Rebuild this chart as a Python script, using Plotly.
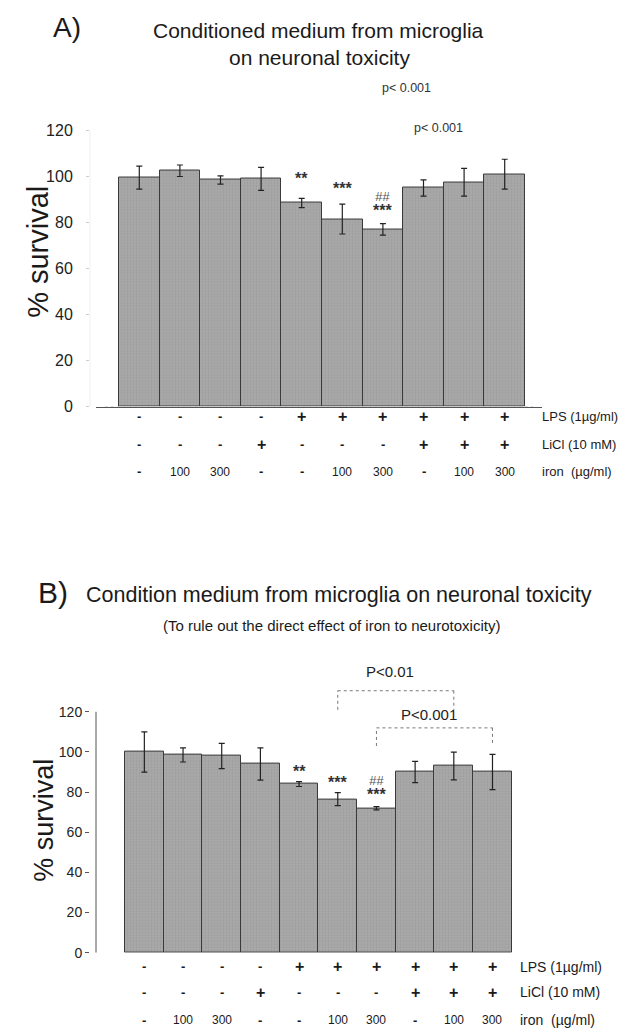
import plotly.graph_objects as go

W, H = 626, 1034

# ---------------- data ----------------
lps = ['-', '-', '-', '-', '+', '+', '+', '+', '+', '+']
licl = ['-', '-', '-', '+', '-', '-', '-', '+', '+', '+']
iron = ['-', '100', '300', '-', '-', '100', '300', '-', '100', '300']
row_labels = ['LPS (1µg/ml)', 'LiCl (10 mM)', 'iron  (µg/ml)']

surv_a = [99.5, 102.5, 98.5, 99, 88.5, 81.5, 77, 95, 97.5, 101]
err_a = [5, 2.5, 1.8, 5, 2, 6.5, 2.5, 3.5, 6, 6.5]
sig_a = ['', '', '', '', '**', '***', '***', '', '', '']
hash_a = ['', '', '', '', '', '', '##', '', '', '']

surv_b = [100, 98.5, 98, 94, 84, 76.5, 72, 90, 93, 90]
err_b = [10, 3.5, 6.3, 8, 1.2, 3.2, 0.8, 5.3, 6.9, 8.8]
sig_b = ['', '', '', '', '**', '***', '***', '', '', '']
hash_b = ['', '', '', '', '', '', '##', '', '', '']

y_ticks = [0, 20, 40, 60, 80, 100, 120]

idx = list(range(len(surv_a)))

FONT = "Liberation Sans, Arial, sans-serif"
BAR_FILL = '#a8a8a8'
YTOP = 150  # axis range top (room for p-value labels)


def px(x):
    return x / W


def py(y):
    return 1 - y / H


fig = go.Figure()

bar_style = dict(
    marker=dict(color=BAR_FILL, line=dict(color='#3a3a3a', width=1),
                pattern=dict(shape='.', fgcolor='#8a8a8a', bgcolor=BAR_FILL,
                             size=3, solidity=0.25)),
    width=1.0, showlegend=False, hoverinfo='skip')

fig.add_trace(go.Bar(x=idx, y=surv_a, xaxis='x', yaxis='y',
                     error_y=dict(type='data', array=err_a, color='#222',
                                  thickness=1.2, width=3),
                     **bar_style))
fig.add_trace(go.Bar(x=idx, y=surv_b, xaxis='x2', yaxis='y2',
                     error_y=dict(type='data', array=err_b, color='#222',
                                  thickness=1.2, width=3),
                     **bar_style))

annotations = []

# ---------- titles ----------
annotations += [
    dict(text='A)', x=px(59), y=py(20), font=dict(size=28)),
    dict(text='Conditioned medium from microglia', x=px(310), y=py(23), font=dict(size=21)),
    dict(text='on neuronal toxicity', x=px(311), y=py(50), font=dict(size=21)),
    dict(text='B)', x=px(45), y=py(590), font=dict(size=30)),
    dict(text='Condition medium from microglia on neuronal toxicity', x=px(76), y=py(592),
         xanchor='left', font=dict(size=21.5)),
    dict(text='(To rule out the direct effect of iron to neurotoxicity)', x=px(324), y=py(623),
         font=dict(size=15)),
    dict(text='% survival', x=px(30), y=py(246), textangle=-90, font=dict(size=29)),
    dict(text='% survival', x=px(36), y=py(820), textangle=-90, font=dict(size=27)),
]
for a in annotations:
    a.update(xref='paper', yref='paper', showarrow=False, yanchor='middle')
    a.setdefault('xanchor', 'center')
    a['font'].update(family=FONT, color='#1a1a1a')

# ---------- condition rows ----------
rows = [lps, licl, iron]
rows_y_a = [412, 440, 468]
rows_y_b = [967, 993, 1021]
for r, (vals, lab) in enumerate(zip(rows, row_labels)):
    for xref, ys, lab_x, lab_size in (('x', rows_y_a, 532, 13), ('x2', rows_y_b, 510, 14)):
        for i, v in enumerate(vals):
            big = v in ('+', '-')
            annotations.append(dict(
                text=('<b>%s</b>' % v) if big else v, x=i, xref=xref, y=py(ys[r]),
                yref='paper', showarrow=False, xanchor='center', yanchor='middle',
                font=dict(family=FONT, size=16 if v == '+' else (13 if big else 12),
                          color='#1a1a1a')))
        annotations.append(dict(text=lab, x=px(lab_x), xref='paper', y=py(ys[r]),
                                yref='paper', xanchor='left', yanchor='middle', showarrow=False,
                                font=dict(family=FONT, size=lab_size, color='#1a1a1a')))

# ---------- significance marks ----------
for xref, yref, vals, errs, sig, hsh, s_shift, h_shift in (
        ('x', 'y', surv_a, err_a, sig_a, hash_a, [0, 0, 0, 0, 20, 16, 13, 0, 0, 0], 27),
        ('x2', 'y2', surv_b, err_b, sig_b, hash_b, [0, 0, 0, 0, 10, 10, 12, 0, 0, 0], 26)):
    for i in idx:
        top = vals[i] + errs[i]
        if sig[i]:
            annotations.append(dict(text='<b>%s</b>' % sig[i], x=i, y=top, xref=xref, yref=yref,
                                    yshift=s_shift[i], showarrow=False, yanchor='middle',
                                    font=dict(family=FONT, size=16, color='#333')))
        if hsh[i]:
            annotations.append(dict(text='<i>%s</i>' % hsh[i], x=i, y=top, xref=xref, yref=yref,
                                    yshift=h_shift, showarrow=False, yanchor='middle',
                                    font=dict(family=FONT, size=13, color='#555')))

# ---------- p-values ----------
annotations += [
    dict(text='p< 0.001', x=6.57, y=138.5, xref='x', yref='y', showarrow=False,
         yanchor='middle', font=dict(family=FONT, size=12.5, color='#333')),
    dict(text='p< 0.001', x=7.36, y=121, xref='x', yref='y', showarrow=False,
         yanchor='middle', font=dict(family=FONT, size=12.5, color='#333')),
]

brackets_b = [(5, 8, 121, 130.5, 'P<0.01', 140), (6, 9, 103, 112, 'P<0.001', 118.5)]
shapes = []
for x0, x1, ylo, yhi, txt, ytxt in brackets_b:
    for seg in ((x0, ylo, x0, yhi), (x0, yhi, x1, yhi), (x1, yhi, x1, ylo)):
        shapes.append(dict(type='line', xref='x2', yref='y2', x0=seg[0], y0=seg[1],
                           x1=seg[2], y1=seg[3],
                           line=dict(color='#777', width=1, dash='dot')))
    annotations.append(dict(text=txt, x=(x0 + x1) / 2 - 0.15, y=ytxt, xref='x2', yref='y2',
                            showarrow=False, yanchor='middle',
                            font=dict(family=FONT, size=15, color='#222')))

# y-axis line of panel B (only spans 0..120)
shapes.append(dict(type='line', xref='x2 domain', yref='y2', x0=0, x1=0, y0=0, y1=120,
                   line=dict(color='#555', width=1)))
# faint baseline and axis in panel A
shapes.append(dict(type='line', xref='x', yref='y', x0=-0.85, x1=9.7, y0=0, y1=0,
                   line=dict(color='#bbb', width=1, dash='dot')))
shapes.append(dict(type='line', xref='x domain', yref='y', x0=0, x1=0, y0=0, y1=120,
                   line=dict(color='#eeeeee', width=1)))

fig.update_layout(
    width=W, height=H, margin=dict(l=0, r=0, t=0, b=0),
    paper_bgcolor='white', plot_bgcolor='rgba(0,0,0,0)', bargap=0,
    annotations=annotations, shapes=shapes,
    xaxis=dict(domain=[px(82), px(525)], range=[-1.214, 9.697], visible=False),
    yaxis=dict(domain=[py(402), py(402 - YTOP * 2.32)], range=[0, YTOP], tickvals=y_ticks,
               showgrid=False, zeroline=False, showline=False,
               ticks='outside', ticklen=3, tickcolor='#cccccc', ticklabelstandoff=10,
               tickfont=dict(family=FONT, size=16, color='#222')),
    xaxis2=dict(domain=[px(88), px(534)], range=[-1.25, 10.28], showgrid=False,
                zeroline=False, showline=True, linecolor='#555', linewidth=1,
                showticklabels=False, ticks=''),
    yaxis2=dict(domain=[py(953), py(953 - YTOP * 2.025)], range=[0, YTOP], tickvals=y_ticks,
                showgrid=False, zeroline=False, showline=False,
                ticks='outside', ticklen=4, tickcolor='#555',
                tickfont=dict(family=FONT, size=14, color='#222')),
)

fig.write_html("out.html")
